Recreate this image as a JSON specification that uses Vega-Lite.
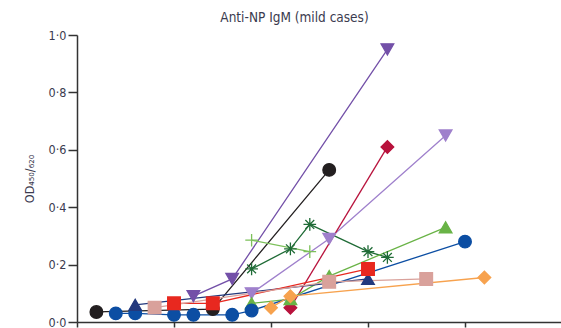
{
  "$schema": "https://vega.github.io/schema/vega-lite/v6.json",
  "autosize": {"type": "none"},
  "padding": {"left": 77, "top": 35, "right": 0, "bottom": 6},
  "width": 485,
  "height": 287,
  "background": "white",
  "title": {"text": "Anti-NP IgM (mild cases)", "font": "DejaVu Sans Condensed", "fontSize": 13.5, "fontWeight": "normal", "color": "#3b3b4f", "anchor": "middle", "dx": -25, "offset": 5},
  "config": {"view": {"stroke": null}},
  "data": {"values": [
    {"s": "A", "d": 2, "v": 0.035}, {"s": "A", "d": 14, "v": 0.045}, {"s": "A", "d": 26, "v": 0.53},
    {"s": "B", "d": 12, "v": 0.09}, {"s": "B", "d": 16, "v": 0.15}, {"s": "B", "d": 32, "v": 0.95},
    {"s": "C", "d": 18, "v": 0.10}, {"s": "C", "d": 26, "v": 0.29}, {"s": "C", "d": 38, "v": 0.65},
    {"s": "D", "d": 22, "v": 0.05}, {"s": "D", "d": 32, "v": 0.61},
    {"s": "E", "d": 18, "v": 0.185}, {"s": "E", "d": 22, "v": 0.255}, {"s": "E", "d": 24, "v": 0.34}, {"s": "E", "d": 30, "v": 0.245}, {"s": "E", "d": 32, "v": 0.225},
    {"s": "F", "d": 18, "v": 0.285}, {"s": "F", "d": 24, "v": 0.245},
    {"s": "G", "d": 18, "v": 0.065}, {"s": "G", "d": 22, "v": 0.08}, {"s": "G", "d": 26, "v": 0.16}, {"s": "G", "d": 38, "v": 0.33},
    {"s": "H", "d": 4, "v": 0.03}, {"s": "H", "d": 6, "v": 0.03}, {"s": "H", "d": 10, "v": 0.025}, {"s": "H", "d": 12, "v": 0.025}, {"s": "H", "d": 16, "v": 0.025}, {"s": "H", "d": 18, "v": 0.04}, {"s": "H", "d": 40, "v": 0.28},
    {"s": "I", "d": 6, "v": 0.06}, {"s": "I", "d": 30, "v": 0.15},
    {"s": "J", "d": 10, "v": 0.065}, {"s": "J", "d": 14, "v": 0.065}, {"s": "J", "d": 30, "v": 0.185},
    {"s": "K", "d": 8, "v": 0.05}, {"s": "K", "d": 26, "v": 0.14}, {"s": "K", "d": 36, "v": 0.15},
    {"s": "L", "d": 20, "v": 0.05}, {"s": "L", "d": 22, "v": 0.09}, {"s": "L", "d": 42, "v": 0.155}
  ]},
  "encoding": {
    "x": {"field": "d", "type": "quantitative", "scale": {"domain": [0, 50], "nice": false, "zero": false},
      "axis": {"values": [0, 10, 20, 30, 40, 50], "labels": false, "title": null, "grid": false, "domainColor": "#333", "domainWidth": 1.5, "tickColor": "#333", "tickWidth": 1.5, "tickSize": 5}},
    "y": {"field": "v", "type": "quantitative", "scale": {"domain": [0, 1], "nice": false},
      "axis": {"values": [0, 0.2, 0.4, 0.6, 0.8, 1.0], "labelExpr": "replace(format(datum.value, '.1f'), '.', '·')", "grid": false, "domainColor": "#333", "domainWidth": 1.5, "tickColor": "#333", "tickWidth": 1.5, "tickSize": 9, "labelPadding": 2, "labelFont": "DejaVu Sans Condensed", "labelFontSize": 12.5, "labelColor": "#3b3b4f", "title": "OD₄₅₀/₆₂₀", "titleFont": "DejaVu Sans Condensed", "titleFontSize": 12.5, "titleFontWeight": "normal", "titleColor": "#3b3b4f", "titlePadding": 12}},
    "color": {"field": "s", "type": "nominal", "legend": null,
      "scale": {"domain": ["A", "B", "C", "D", "E", "F", "G", "H", "I", "J", "K", "L"],
        "range": ["#231f20", "#7350a8", "#9f80cc", "#b8123c", "#1f6b36", "#7cc05a", "#69b346", "#0c4ea3", "#23397d", "#e8281f", "#d9a19b", "#f7a24e"]}},
    "detail": {"field": "s"}
  },
  "layer": [
    {"mark": {"type": "line", "strokeWidth": 1.3}},
    {"mark": {"type": "point", "filled": true, "opacity": 1, "strokeWidth": 1.3},
      "encoding": {
        "stroke": {"field": "s", "type": "nominal", "legend": null, "scale": {"domain": ["A", "B", "C", "D", "E", "F", "G", "H", "I", "J", "K", "L"],
          "range": ["#231f20", "#7350a8", "#9f80cc", "#b8123c", "#1f6b36", "#7cc05a", "#69b346", "#0c4ea3", "#23397d", "#e8281f", "#d9a19b", "#f7a24e"]}},
        "shape": {"field": "s", "type": "nominal", "legend": null,
          "scale": {"domain": ["A", "B", "C", "D", "E", "F", "G", "H", "I", "J", "K", "L"],
            "range": ["circle", "triangle-down", "triangle-down", "diamond", "M-1,0H1M0,-1V1M-0.7,-0.7L0.7,0.7M-0.7,0.7L0.7,-0.7", "M-1,0H1M0,-1V1", "triangle-up", "circle", "triangle-up", "square", "square", "diamond"]}},
        "size": {"value": 160}
      }}
  ]
}
